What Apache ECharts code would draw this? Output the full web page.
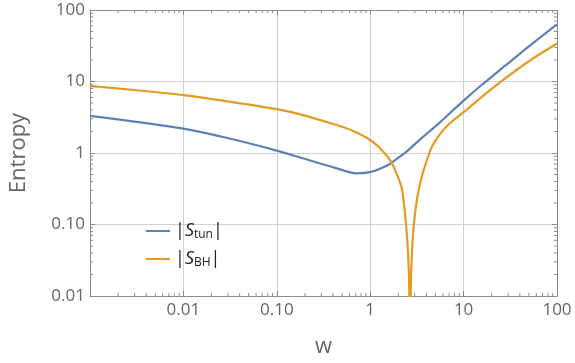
<!DOCTYPE html>
<html>
<head>
<meta charset="utf-8">
<script src="https://cdn.jsdelivr.net/npm/echarts@6/dist/echarts.min.js"></script>
<style>
  html, body { margin: 0; padding: 0; background: #fff; }
  #chart { width: 575px; height: 363px; }
</style>
</head>
<body>
<div id="chart"></div>
<script>
// |S_tun|
const wTun = [0.001, 0.003, 0.01, 0.032, 0.1, 0.186, 0.42, 0.71, 1.0, 1.31, 1.67, 2.0, 2.41, 2.72, 3.62, 5.43, 10, 15.7, 27.7, 50, 100];
const sTun = [3.3, 2.75, 2.19, 1.58, 1.08, 0.85, 0.62, 0.52, 0.54, 0.61, 0.72, 0.86, 1.03, 1.18, 1.65, 2.6, 5.4, 9.0, 16.5, 31, 63];

// |S_BH|, dips to zero just below w = e
const wBH = [0.001, 0.003, 0.01, 0.032, 0.1, 0.186, 0.42, 0.63, 1.0, 1.31, 1.67, 1.97, 2.14, 2.22, 2.41, 2.55, 2.62, 2.67, 2.72, 2.79, 2.95, 3.21, 3.62, 4.3, 4.62, 5.43, 6.93, 10, 15.7, 25.5, 49, 100];
const sBH = [8.7, 7.6, 6.45, 5.2, 4.1, 3.42, 2.5, 2.08, 1.52, 1.12, 0.76, 0.47, 0.35, 0.28, 0.107, 0.037, 0.012, 0.0001, 0.012, 0.037, 0.107, 0.25, 0.5, 1.0, 1.25, 1.75, 2.52, 3.72, 6.1, 10.1, 18.9, 34];

const xDecades = [0.001, 0.01, 0.1, 1, 10];
const yDecades = [0.01, 0.1, 1, 10];
const minorSteps = [2, 3, 4, 5, 6, 7, 8, 9];
const xLabels = { "-2": "0.01", "-1": "0.10", "0": "1", "1": "10", "2": "100" };
const yLabels = { "-2": "0.01", "-1": "0.10", "0": "1", "1": "10", "2": "100" };

const X_MIN = 0.001, X_MAX = 100, Y_MIN = 0.01, Y_MAX = 100;
const FRAME = "#8c8c8c";
const TEXT = "#666666";
const FONT = "Open Sans";

const minorX = [];
xDecades.forEach((d) => minorSteps.forEach((m) => minorX.push([d * m, 1])));
const minorY = [];
yDecades.forEach((d) => minorSteps.forEach((m) => minorY.push([1, d * m])));

function labelFor(table) {
	return (v) => {
		const k = String(Math.round(Math.log10(v)));
		return table[k] !== undefined ? table[k] : "";
	};
}

function tickLine(x1, y1, x2, y2) {
	return { type: "line", shape: { x1, y1, x2, y2 }, style: { stroke: FRAME, lineWidth: 1 } };
}

const baseAxis = {
	type: "log",
	logBase: 10,
	axisLine: { show: true, onZero: false, lineStyle: { color: FRAME, width: 1 } },
	axisTick: { show: true, inside: true, length: 5, lineStyle: { color: FRAME } },
	minorTick: { show: false },
};

const chart = echarts.init(document.getElementById("chart"));
chart.setOption({
	animation: false,
	backgroundColor: "#ffffff",
	textStyle: { fontFamily: FONT },
	grid: { left: 84, right: 18, top: 10, bottom: 60, containLabel: false },
	legend: {
		data: ["tun", "bh"],
		orient: "vertical",
		left: 140,
		top: 216,
		itemWidth: 24,
		itemHeight: 2,
		itemGap: 8,
		formatter: (name) => (name === "tun" ? "|{s|S}{sub|tun}|" : "|{s|S}{sub|BH}|"),
		textStyle: {
			color: "#222",
			fontFamily: FONT,
			fontSize: 18,
			lineHeight: 20,
			rich: {
				s: { fontStyle: "italic", fontSize: 18, fontFamily: FONT, color: "#222" },
				sub: { fontSize: 12, fontFamily: FONT, color: "#222", verticalAlign: "bottom", padding: [6, 0, 0, 0] },
			},
		},
	},
	xAxis: [
		{
			...baseAxis,
			min: X_MIN,
			max: X_MAX,
			name: "w",
			nameLocation: "middle",
			nameGap: 40,
			nameTextStyle: { color: TEXT, fontSize: 22, fontFamily: FONT },
			axisLabel: { color: TEXT, fontSize: 17, margin: 6, formatter: labelFor(xLabels), showMinLabel: true },
			splitLine: { show: true, lineStyle: { color: "#d0d0d0", width: 1 } },
		},
		{
			...baseAxis,
			position: "top",
			min: X_MIN,
			max: X_MAX,
			axisLabel: { show: false },
			splitLine: { show: false },
		},
	],
	yAxis: [
		{
			...baseAxis,
			min: Y_MIN,
			max: Y_MAX,
			name: "Entropy",
			nameLocation: "middle",
			nameGap: 60,
			nameTextStyle: { color: TEXT, fontSize: 22, fontFamily: FONT },
			axisLabel: { color: TEXT, fontSize: 17, margin: 5, formatter: labelFor(yLabels) },
			splitLine: { show: true, lineStyle: { color: "#d0d0d0", width: 1 } },
		},
		{
			...baseAxis,
			position: "right",
			min: Y_MIN,
			max: Y_MAX,
			axisLabel: { show: false },
			splitLine: { show: false },
		},
	],
	series: [
		{
			name: "tun",
			type: "line",
			data: wTun.map((w, i) => [w, sTun[i]]),
			symbol: "none",
			smooth: 0.25,
			lineStyle: { color: "#5e81b5", width: 2.2 },
			itemStyle: { color: "#5e81b5" },
			silent: true,
			z: 3,
		},
		{
			name: "bh",
			type: "line",
			data: wBH.map((w, i) => [w, sBH[i]]),
			symbol: "none",
			smooth: 0.25,
			lineStyle: { color: "#e19c24", width: 2.2 },
			itemStyle: { color: "#e19c24" },
			silent: true,
			clip: true,
			z: 4,
		},
		{
			// minor ticks on bottom and top frame
			type: "custom",
			data: minorX,
			silent: true,
			clip: false,
			renderItem: (params, api) => {
				const v = api.value(0);
				const b = api.coord([v, Y_MIN]);
				const t = api.coord([v, Y_MAX]);
				return { type: "group", children: [tickLine(b[0], b[1], b[0], b[1] - 3), tickLine(t[0], t[1], t[0], t[1] + 3)] };
			},
		},
		{
			// minor ticks on left and right frame
			type: "custom",
			data: minorY,
			silent: true,
			clip: false,
			renderItem: (params, api) => {
				const v = api.value(1);
				const l = api.coord([X_MIN, v]);
				const r = api.coord([X_MAX, v]);
				return { type: "group", children: [tickLine(l[0], l[1], l[0] + 3, l[1]), tickLine(r[0], r[1], r[0] - 3, r[1])] };
			},
		},
	],
});
</script>
</body>
</html>
